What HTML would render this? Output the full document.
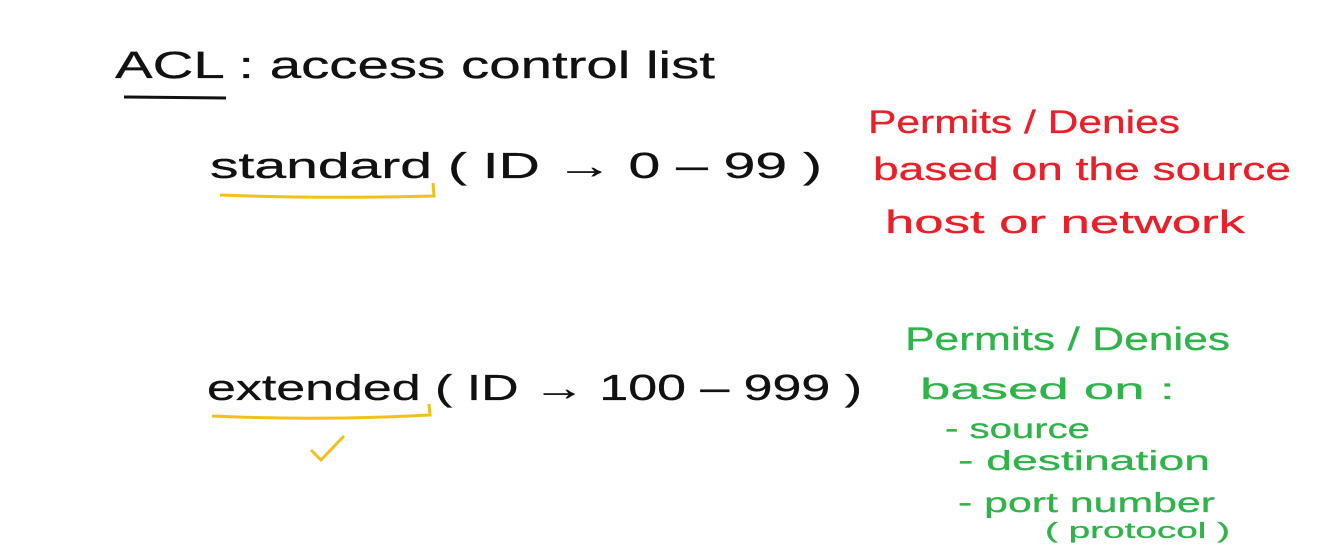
<!DOCTYPE html>
<html>
<head>
<meta charset="utf-8">
<style>
  html,body{margin:0;padding:0;background:#fff;}
  svg{display:block;}
  text{font-family:"Liberation Sans",sans-serif;}
</style>
</head>
<body>
<svg width="1344" height="553" viewBox="0 0 1344 553">
  <rect width="1344" height="553" fill="#fff"/>
  <text x="115" y="78" font-size="38" fill="#111" stroke="#111" stroke-width="0.3" textLength="600" lengthAdjust="spacingAndGlyphs">ACL : access control list</text>
  <path d="M124 97 L226 98" stroke="#111" stroke-width="3" fill="none"/>

  <text x="210" y="178" font-size="36" fill="#111" stroke="#111" stroke-width="0.3" textLength="612" lengthAdjust="spacingAndGlyphs">standard ( ID → 0 – 99 )</text>
  <path d="M220 195 Q320 199 434 196 L433 183" stroke="#f2c01c" stroke-width="3" fill="none"/>

  <g fill="#e8202a" stroke="#e8202a" stroke-width="0.3" font-size="32">
    <text x="868" y="133" textLength="312" lengthAdjust="spacingAndGlyphs">Permits / Denies</text>
    <text x="873" y="180" textLength="418" lengthAdjust="spacingAndGlyphs">based on the source</text>
    <text x="885" y="233" textLength="360" lengthAdjust="spacingAndGlyphs">host or network</text>
  </g>

  <text x="207" y="400" font-size="36" fill="#111" stroke="#111" stroke-width="0.3" textLength="655" lengthAdjust="spacingAndGlyphs">extended ( ID → 100 – 999 )</text>
  <path d="M212 416 Q320 421 430 415 L429 404" stroke="#f2c01c" stroke-width="3" fill="none"/>
  <path d="M311 450 L321 460 L344 436" stroke="#f2c01c" stroke-width="3" fill="none"/>

  <g fill="#2fb34a" stroke="#2fb34a" stroke-width="0.3">
    <text x="905" y="350" font-size="32" textLength="325" lengthAdjust="spacingAndGlyphs">Permits / Denies</text>
    <text x="920" y="399" font-size="30" textLength="255" lengthAdjust="spacingAndGlyphs">based on   :</text>
    <text x="945" y="438" font-size="28" textLength="145" lengthAdjust="spacingAndGlyphs">- source</text>
    <text x="958" y="470" font-size="28" textLength="252" lengthAdjust="spacingAndGlyphs">- destination</text>
    <text x="958" y="512" font-size="28" textLength="257" lengthAdjust="spacingAndGlyphs">- port number</text>
    <text x="1045" y="538" font-size="22" textLength="185" lengthAdjust="spacingAndGlyphs">( protocol )</text>
  </g>
</svg>
</body>
</html>
